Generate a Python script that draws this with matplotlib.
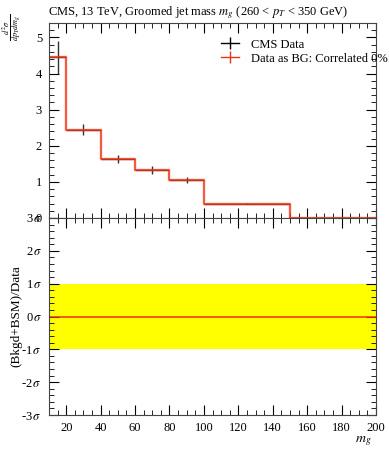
import matplotlib
matplotlib.use("Agg")
import matplotlib.pyplot as plt
from matplotlib.lines import Line2D
from matplotlib.ticker import MultipleLocator, FuncFormatter
import numpy as np

plt.rcParams['font.family'] = ['Liberation Serif', 'DejaVu Serif']
plt.rcParams['mathtext.fontset'] = 'stix'

bin_edges = [10, 20, 40, 60, 80, 100, 150, 200]
data_vals = [4.45, 2.45, 1.63, 1.33, 1.05, 0.40, 0.01]
data_errs = [0.45, 0.15, 0.11, 0.10, 0.08, 0.02, 0.005]
bg_vals = [4.45, 2.45, 1.63, 1.33, 1.05, 0.40, 0.01]
sigma_band = [-1, 1]

RED = '#ee3311'

fig = plt.figure(figsize=(3.89, 4.5), dpi=100)
W, H = 389, 450
ax1 = fig.add_axes([49/W, 1-218/H, 327/W, 195/H])
ax2 = fig.add_axes([49/W, 1-415/H, 327/W, 197/H], sharex=ax1)

edges = np.array(bin_edges)
centers = 0.5*(edges[:-1]+edges[1:])
halfw = 0.5*(edges[1:]-edges[:-1])

ax1.errorbar(centers, data_vals, yerr=data_errs, xerr=halfw, fmt='none',
             ecolor='#333333', elinewidth=1.0)
yy = np.r_[bg_vals, bg_vals[-1]]
ax1.step(edges, yy, where='post', color=RED, lw=2.8, alpha=0.12)
ax1.step(edges, yy, where='post', color=RED, lw=1.1)

ax1.set_xlim(10, 200)
ax1.set_ylim(0, 5.4)

ax2.axhspan(sigma_band[0], sigma_band[1], color='#ffff00', lw=0)
ax2.axhline(0, color=RED, lw=1.1)
ax2.set_ylim(-3, 3)

for ax in (ax1, ax2):
    ax.tick_params(which='both', direction='in', top=True, right=True, labelsize=9)
    ax.tick_params(which='major', length=7, pad=5)
    ax.tick_params(which='minor', length=3.5)
    ax.xaxis.set_major_locator(MultipleLocator(20))
    ax.xaxis.set_minor_locator(MultipleLocator(5))
    for s in ax.spines.values():
        s.set_linewidth(0.8)
        s.set_color('#444444')

ax1.yaxis.set_major_locator(MultipleLocator(1))
ax1.yaxis.set_minor_locator(MultipleLocator(0.2))
ax1.tick_params(labelbottom=False)
ax1.yaxis.set_major_formatter(FuncFormatter(lambda v, p: f'{v:g}'))

ax2.yaxis.set_major_locator(MultipleLocator(1))
ax2.yaxis.set_minor_locator(MultipleLocator(0.2))
ax2.yaxis.set_major_formatter(FuncFormatter(lambda v, p: f'{int(round(v))}$\\,\\sigma$'))

fig.text(48/W, 1-13/H, 'CMS, 13 TeV, Groomed jet mass $m_g$ (260 < $p_T$ < 350 GeV)',
         ha='left', va='center', fontsize=9)
fig.text(12/W, 1-27/H, r'$\frac{d^2\sigma}{dp_T dm_g}$', rotation=90,
         ha='center', va='center', fontsize=8.5)
ax2.set_ylabel('(Bkgd+BSM)/Data', fontsize=9.5)
ax2.yaxis.set_label_coords(-0.08, 0.5)
fig.text(372/W, 1-441/H, '$m_g$', ha='right', va='center', fontsize=10)

handles = [Line2D([0], [0], color='black', lw=1, marker='|', markersize=9, markeredgewidth=1),
           Line2D([0], [0], color=RED, lw=1, marker='|', markersize=9, markeredgewidth=1)]
ax1.legend(handles, ['CMS Data', 'Data as BG: Correlated 0%'], loc='upper left',
           bbox_to_anchor=(0.512, 0.945), frameon=False, fontsize=9,
           handlelength=1.4, handletextpad=1.0, labelspacing=0.15, borderaxespad=0)

fig.savefig('out.png', dpi=100)
